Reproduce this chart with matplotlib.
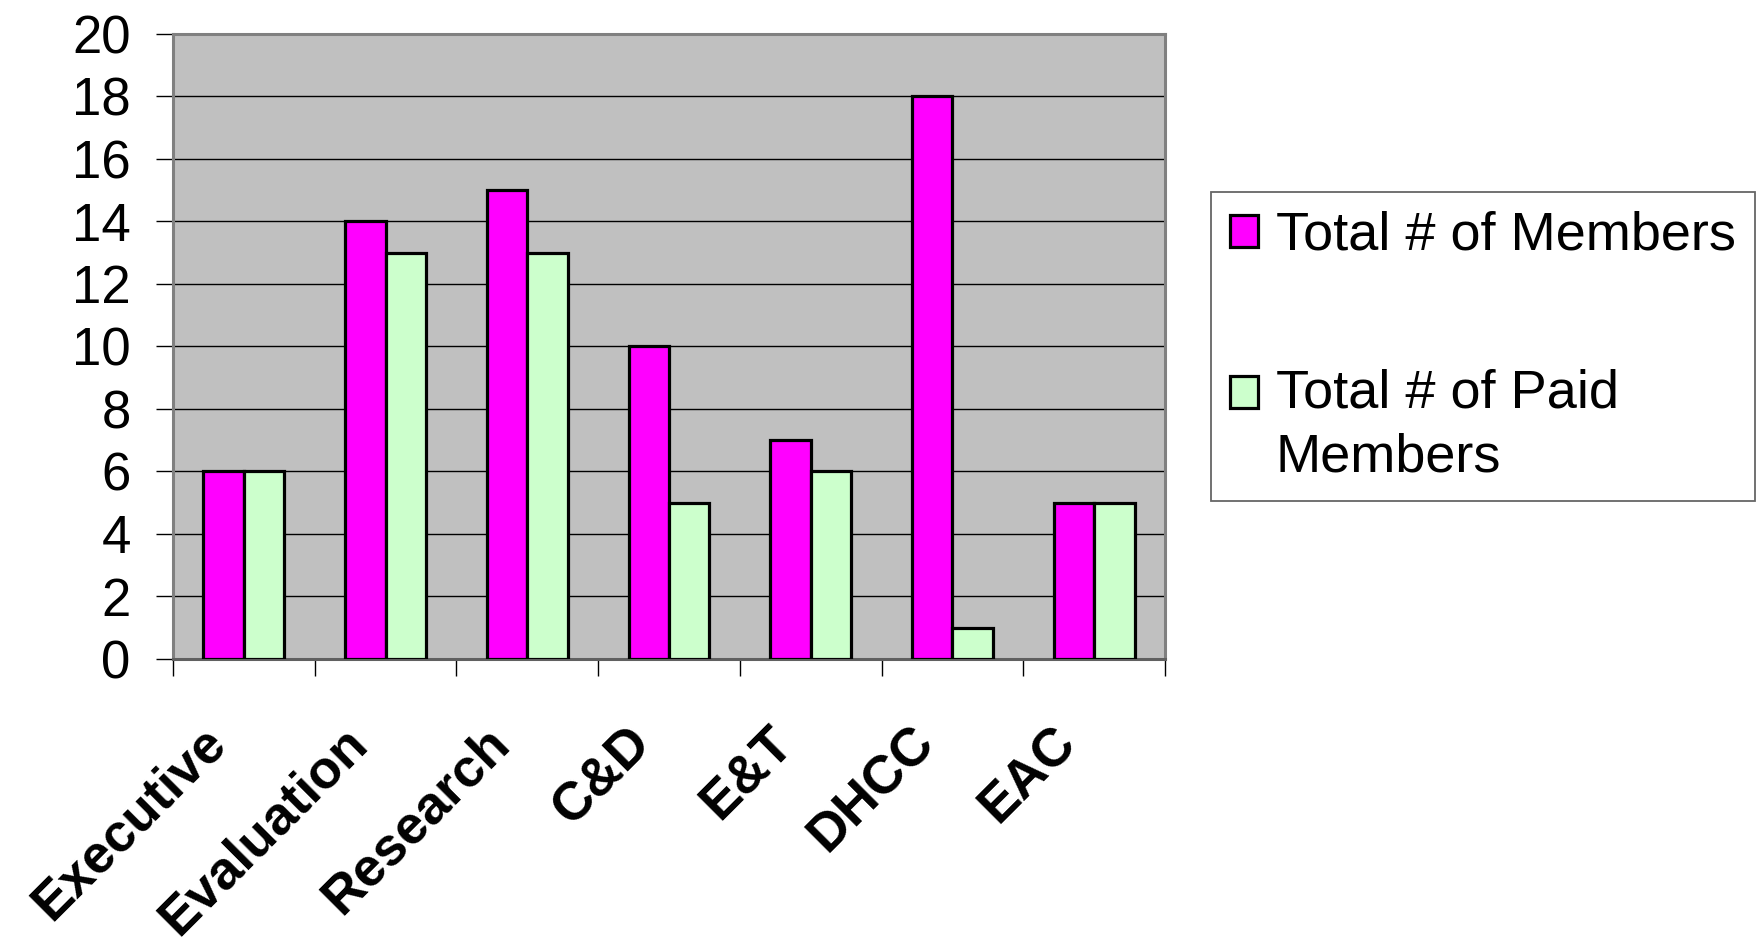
import numpy as np
import matplotlib.pyplot as plt
from matplotlib.patches import Rectangle
from matplotlib.legend_handler import HandlerPatch, update_from_first_child
from matplotlib.transforms import ScaledTranslation

plt.rcParams["font.family"] = ["Liberation Sans", "DejaVu Sans"]

categories = ["Executive", "Evaluation", "Research", "C&D", "E&T", "DHCC", "EAC"]
total_members = [6, 14, 15, 10, 7, 18, 5]
paid_members = [6, 13, 13, 5, 6, 1, 5]
series_labels = ["Total # of Members", "Total # of Paid\nMembers"]
y_ticks = list(range(0, 21, 2))

DPI = 100
fig = plt.figure(figsize=(17.58, 9.41), dpi=DPI)
ax = fig.add_axes([0.0984, 0.2997, 0.5643, 0.6642])
ax.set_facecolor("#c0c0c0")

x = np.arange(len(categories))
w = 0.285
bars_total = ax.bar(x - w / 2, total_members, w, color="#ff00ff", edgecolor="black",
                    linewidth=2.3, label=series_labels[0], zorder=3)
bars_paid = ax.bar(x + w / 2, paid_members, w, color="#ccffcc", edgecolor="black",
                   linewidth=2.3, label=series_labels[1], zorder=3)

ax.set_xlim(-0.5, len(categories) - 0.5)
ax.set_ylim(0, 20)
ax.set_yticks(y_ticks)
ax.yaxis.grid(True, color="black", linewidth=1.0, zorder=1)
ax.set_axisbelow(True)

for side in ["left", "right", "top", "bottom"]:
    ax.spines[side].set_color("#808080")
    ax.spines[side].set_linewidth(2.2)
ax.spines["bottom"].set_color("#606060")

ax.tick_params(axis="y", length=12, width=1, labelsize=38, pad=18.5, color="black")

# category labels at centres, tick marks at the boundaries
ax.set_xticks(x)
ax.set_xticklabels(categories, rotation=45, ha="right", va="center",
                   rotation_mode="anchor", fontsize=38.5, fontweight="bold")
ax.tick_params(axis="x", which="major", length=0, pad=54.7)
ax.set_xticks(np.arange(len(categories) + 1) - 0.5, minor=True)
ax.tick_params(axis="x", which="minor", length=12, width=1, color="black")
shift = ScaledTranslation(-26 / DPI, 0, fig.dpi_scale_trans)
for lbl in ax.get_xticklabels():
    lbl.set_transform(lbl.get_transform() + shift)


def first_line_box(legend, orig_handle, xdescent, ydescent, width, height, fontsize):
    # keep the swatch next to the first line of a wrapped label
    return Rectangle((-xdescent, -ydescent + 0.62 * fontsize), width, height)


leg = fig.legend(loc="upper left", bbox_to_anchor=(0.6888, 0.796),
                 fontsize=39, frameon=True, fancybox=False,
                 handlelength=0.52, handleheight=0.52, handletextpad=0.33,
                 labelspacing=1.98, borderpad=0.35, borderaxespad=0,
                 handler_map={bars_paid: HandlerPatch(patch_func=first_line_box,
                                                      update_func=update_from_first_child)})
for t in leg.get_texts():
    t.set_linespacing(1.36)
leg.get_frame().set_edgecolor("#404040")
leg.get_frame().set_linewidth(1.3)

fig.savefig("out.png", dpi=DPI)
